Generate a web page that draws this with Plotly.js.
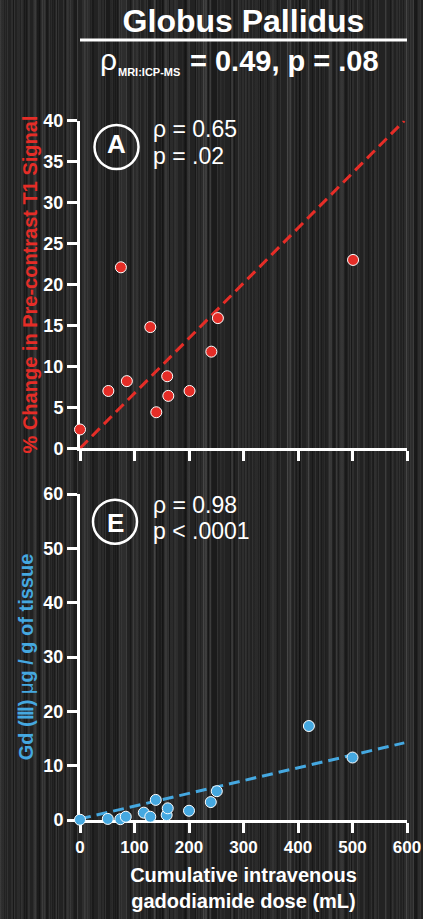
<!DOCTYPE html>
<html>
<head>
<meta charset="utf-8">
<script src="https://cdn.plot.ly/plotly-3.0.1.min.js"></script>
<style>
  html, body { margin:0; padding:0; }
  body {
    width:423px; height:919px; overflow:hidden;
    background:
      repeating-linear-gradient(90deg, rgba(255,255,255,0.07) 0 1px, transparent 1px 7px),
      repeating-linear-gradient(90deg, rgba(255,255,255,0.05) 0 2px, transparent 2px 11px),
      repeating-linear-gradient(90deg, rgba(0,0,0,0.30) 0 1px, transparent 1px 13px),
      repeating-linear-gradient(90deg, rgba(255,255,255,0.04) 0 3px, transparent 3px 17px),
      repeating-linear-gradient(90deg, rgba(0,0,0,0.25) 0 2px, transparent 2px 23px),
      repeating-linear-gradient(90deg, rgba(255,255,255,0.06) 0 1px, transparent 1px 29px),
      repeating-linear-gradient(90deg, rgba(0,0,0,0.20) 0 3px, transparent 3px 37px),
      repeating-linear-gradient(90deg, rgba(255,255,255,0.05) 0 4px, transparent 4px 41px),
      repeating-linear-gradient(90deg, rgba(0,0,0,0.22) 0 5px, transparent 5px 53px),
      repeating-linear-gradient(90deg, rgba(255,255,255,0.04) 0 6px, transparent 6px 67px),
      #222222;
  }
  #chart { width:423px; height:919px; }
</style>
</head>
<body>
<div id="chart"></div>
<script>
// ---- data ----
var doseA   = [0, 52, 75, 86, 129, 140, 160, 162, 201, 241, 253, 501];
var signalA = [2.3, 7.0, 22.1, 8.2, 14.8, 4.4, 8.8, 6.4, 7.0, 11.8, 15.9, 23.0];
var fitDoseA = [0, 595];
var fitSignalA = [0, 40];

var doseE = [0, 51, 74, 84, 117, 129, 139, 159, 161, 200, 240, 251, 420, 500];
var gdE   = [0.05, 0.2, 0.15, 0.6, 1.35, 0.6, 3.7, 0.9, 2.15, 1.7, 3.3, 5.3, 17.3, 11.5];
var fitDoseE = [0, 595];
var fitGdE = [0.2, 14.2];

var xTicks = [0, 100, 200, 300, 400, 500, 600];
var yTicksA = [0, 5, 10, 15, 20, 25, 30, 35, 40];
var yTicksE = [0, 10, 20, 30, 40, 50, 60];

// ---- style ----
var RED = '#e52d27';
var BLUE = '#45a8e0';
var FONT = 'Liberation Sans, Arial, Helvetica, sans-serif';

// page-pixel -> paper coordinate helpers (plot area: x 80..407, y 120..820)
var L = 80, R = 16, T = 120, B = 99, W = 423, H = 919;
var PW = W - L - R, PH = H - T - B;
function px(x) { return (x - L) / PW; }
function py(y) { return (H - B - y) / PH; }

var traces = [
  { x: fitDoseA, y: fitSignalA, xaxis: 'x2', yaxis: 'y2', mode: 'lines',
    line: { color: RED, width: 3, dash: '11px,6px' }, hoverinfo: 'skip' },
  { x: doseA, y: signalA, xaxis: 'x2', yaxis: 'y2', mode: 'markers', cliponaxis: false,
    marker: { color: RED, size: 11, line: { color: 'white', width: 1 } } },
  { x: fitDoseE, y: fitGdE, xaxis: 'x', yaxis: 'y', mode: 'lines',
    line: { color: BLUE, width: 3, dash: '11px,6px' }, hoverinfo: 'skip' },
  { x: doseE, y: gdE, xaxis: 'x', yaxis: 'y', mode: 'markers', cliponaxis: false,
    marker: { color: BLUE, size: 11, line: { color: 'white', width: 1 } } }
];

var axisCommon = {
  showline: true, linecolor: 'white', linewidth: 3,
  ticks: 'outside', ticklen: 10, tickwidth: 3, tickcolor: 'white',
  showgrid: false, zeroline: false, layer: 'below traces',
  tickfont: { family: FONT, size: 18, color: 'white', weight: 'bold' }
};
function ax(extra) { return Object.assign({}, axisCommon, extra); }

function ann(text, x, y, size, opts) {
  return Object.assign({
    text: text, xref: 'paper', yref: 'paper', x: px(x), y: py(y),
    xanchor: 'left', yanchor: 'middle', showarrow: false,
    font: { family: FONT, size: size, color: 'white' }
  }, opts || {});
}

var layout = {
  width: W, height: H,
  margin: { l: L, r: R, t: T, b: B, pad: 0 },
  paper_bgcolor: 'rgba(0,0,0,0)', plot_bgcolor: 'rgba(0,0,0,0)',
  showlegend: false,
  title: { text: 'Globus Pallidus', x: 0.5, xref: 'paper', xanchor: 'center',
           y: 1 - 21 / H, yref: 'container', yanchor: 'middle',
           font: { family: FONT, size: 32, color: 'white', weight: 'bold' } },
  xaxis: ax({ domain: [0, 1], range: [0, 600], anchor: 'y', tickvals: xTicks,
              tickfont: { family: FONT, size: 17, color: 'white', weight: 'bold' },
              title: { text: 'Cumulative intravenous<br>gadodiamide dose (mL)', standoff: 12,
                       font: { family: FONT, size: 20, color: 'white', weight: 'bold' } } }),
  yaxis: ax({ domain: [0, py(494)], range: [0, 60], anchor: 'x', tickvals: yTicksE,
              title: { text: 'Gd (Ⅲ) <span style="font-weight:normal">μ</span>g / g of tissue', standoff: 5,
                       font: { family: FONT, size: 20, color: BLUE, weight: 'bold' } } }),
  xaxis2: ax({ domain: [0, 1], range: [0, 600], anchor: 'y2', tickvals: xTicks,
               showticklabels: false }),
  yaxis2: ax({ domain: [py(448.3), py(120.7)], range: [0, 40], anchor: 'x2', tickvals: yTicksA,
               title: { text: '% Change in Pre-contrast T1 Signal', standoff: 1,
                        font: { family: FONT, size: 20, color: RED, weight: 'bold' } } }),
  shapes: [
    { type: 'line', xref: 'paper', yref: 'paper', x0: px(80), x1: px(407), y0: py(40), y1: py(40),
      line: { color: 'white', width: 3 } },
    { type: 'circle', xref: 'paper', yref: 'paper', x0: px(94.5), x1: px(138.5), y0: py(125), y1: py(169),
      line: { color: 'white', width: 2.5 } },
    { type: 'circle', xref: 'paper', yref: 'paper', x0: px(93), x1: px(137), y0: py(499.7), y1: py(543.7),
      line: { color: 'white', width: 2.5 } }
  ],
  annotations: [
    ann('ρ', 98, 59.5, 30),
    ann('MRI:ICP-MS', 116, 72.2, 11, { font: { family: FONT, size: 11, color: 'white', weight: 'bold' } }),
    ann('= 0.49, p = .08', 188, 61.5, 29, { font: { family: FONT, size: 29, color: 'white', weight: 'bold' } }),
    ann('A', 116.5, 144, 26, { xanchor: 'center', font: { family: FONT, size: 26, color: 'white', weight: 'bold' } }),
    ann('ρ = 0.65', 151, 128.6, 23),
    ann('p = .02', 151, 156.2, 23),
    ann('E', 115.5, 522.5, 26, { xanchor: 'center', font: { family: FONT, size: 26, color: 'white', weight: 'bold' } }),
    ann('ρ = 0.98', 151, 504.6, 23),
    ann('p &lt; .0001', 151, 531.4, 23)
  ]
};

Plotly.newPlot('chart', traces, layout, { displayModeBar: false, staticPlot: true });
</script>
</body>
</html>
